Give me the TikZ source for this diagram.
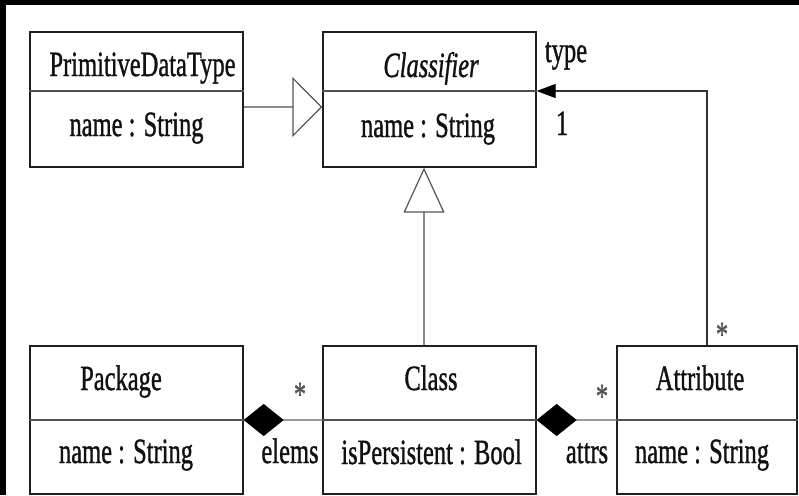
\documentclass[tikz,border=0pt]{standalone}
\usepackage{fontspec}
\usepackage{graphicx}
\setmainfont[FakeBold=1.2]{Liberation Serif}
\usetikzlibrary{arrows.meta}

\definecolor{ink}{HTML}{111111}
\definecolor{boxline}{HTML}{1F1F1F}
\definecolor{divline}{HTML}{505050}
\definecolor{genline}{HTML}{8C8C8C}
\definecolor{tipline}{HTML}{555555}
\definecolor{assocline}{HTML}{333333}
\definecolor{compline}{HTML}{9A9A9A}
\definecolor{starink}{HTML}{555555}

% narrow set text, as in the drawing
\newcommand{\narrow}[1]{\scalebox{0.69}[1]{#1}}

\begin{document}
\begin{tikzpicture}[x=1pt, y=-1pt,
  font=\fontsize{35.5pt}{40pt}\selectfont,
  umlbox/.style={draw=boxline, line width=1.3pt, inner sep=0pt},
  topbox/.style={umlbox, minimum width=213pt, minimum height=135pt},
  lowbox/.style={umlbox, minimum width=213pt, minimum height=148pt},
  divider/.style={draw=divline, line width=1.2pt},
  lbl/.style={anchor=base, inner sep=0pt, text=ink},
  starlbl/.style={anchor=base, inner sep=0pt, text=starink},
  gen/.style={draw=genline, line width=1.2pt},
  assoc/.style={draw=assocline, line width=1.3pt},
  comp/.style={draw=compline, line width=1.2pt}]

% frame
\useasboundingbox (0,0) rectangle (799,495);
\fill[black] (0,0) rectangle (799,495);
\fill[white] (6,5) rectangle (799,495);

% class boxes
\node[topbox] (pdt) at (136.5,99.5) {};
\node[topbox] (clf) at (429.5,99.5) {};
\node[lowbox] (pkg) at (136.5,420) {};
\node[lowbox] (cls) at (429.5,420) {};
\node[lowbox, minimum width=180pt] (att) at (707,420) {};

% compartment separators
\draw[divider] (pdt.west |- 0,91) -- (pdt.east |- 0,91);
\draw[divider] (clf.west |- 0,91) -- (clf.east |- 0,91);
\draw[divider] (pkg.west) -- (pkg.east);
\draw[divider] (cls.west) -- (cls.east);
\draw[divider] (att.west) -- (att.east);

% names and attributes
\node[lbl] (pdtname) at (142.5,76) {\narrow{PrimitiveDataType}};
\node[lbl] (pdtattr) at (136.5,136) {\narrow{name : String}};
\node[lbl] (clfname) at (431,77) {\narrow{\itshape Classifier}};
\node[lbl] (clfattr) at (428,137) {\narrow{name : String}};
\node[lbl] (pkgname) at (121,390) {\narrow{Package}};
\node[lbl] (pkgattr) at (126,463) {\narrow{name : String}};
\node[lbl] (clsname) at (431,390) {\narrow{Class}};
\node[lbl] (clsattr) at (431.5,464) {\narrow{isPersistent : Bool}};
\node[lbl] (attname) at (700,390) {\narrow{Attribute}};
\node[lbl] (attattr) at (702,463) {\narrow{name : String}};

% generalizations
\draw[gen, -{Triangle[open, length=30pt, width=60pt, color=tipline]}]
  ([yshift=-7.5pt]pdt.east) -- ([yshift=-7.5pt]clf.west);
\draw[gen, -{Triangle[open, length=45pt, width=41pt, color=tipline]}]
  ([xshift=-5.5pt]cls.north) -- ([xshift=-5.5pt]clf.south);

% association Attribute -> Classifier
\draw[assoc, -{Triangle[length=19pt, width=14pt, color=black]}]
  (att.north) |- ([yshift=8.5pt]clf.east);
\node[lbl] (typelbl) at (566,62) {\narrow{type}};
\node[lbl] (onelbl) at (562,135) {\narrow{1}};
\node[starlbl] (typestar) at (722,346) {\narrow{*}};

% compositions
\draw[comp, {Diamond[length=40pt, width=32pt, color=black, line width=0.5pt]}-]
  (pkg.east) -- (cls.west);
\node[starlbl] (elemsstar) at (300,406) {\narrow{*}};
\node[lbl] (elemslbl) at (290,463) {\narrow{elems}};

\draw[comp, {Diamond[length=40pt, width=32pt, color=black, line width=0.5pt]}-]
  (cls.east) -- (att.west);
\node[starlbl] (attrsstar) at (602,408) {\narrow{*}};
\node[lbl] (attrslbl) at (587,463) {\narrow{attrs}};

\end{tikzpicture}
\end{document}
